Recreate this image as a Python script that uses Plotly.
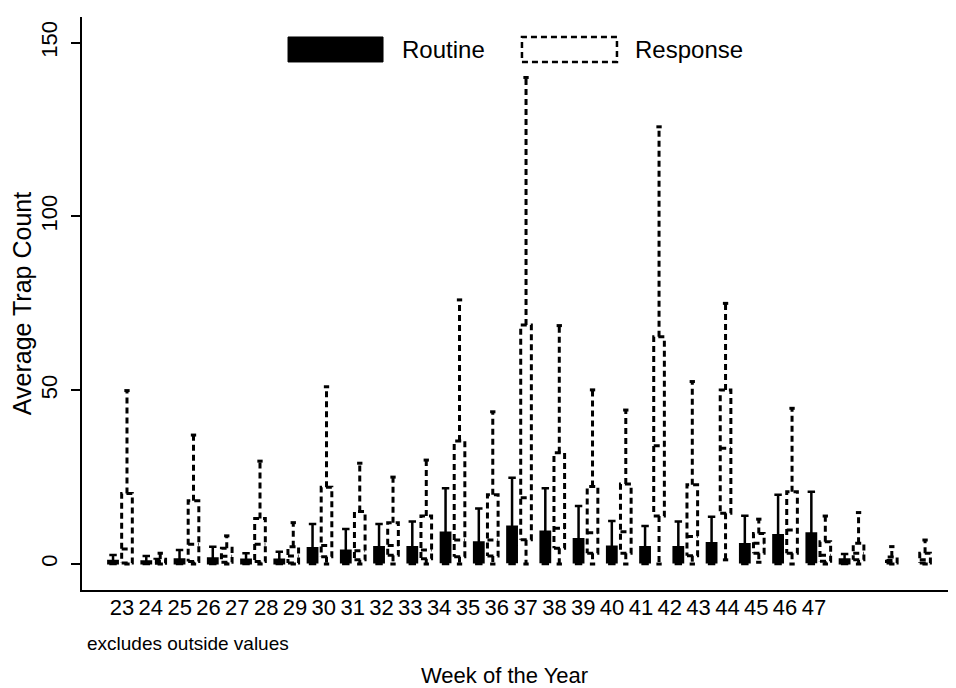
import plotly.graph_objects as go

# ---------------- data ----------------
weeks = list(range(23, 48))
week_labels = [str(w) for w in weeks]

# Routine traps (weeks 46, 47 have no routine data)
routine_lower  = [0, 0, 0, 0, 0, 0, 0, 0, 0, 0, 0, 0, 0, 0, 0, 0, 0, 0, 0, 0, 0, 0, 0, None, None]
routine_q1     = [0.2, 0.2, 0.2, 0.2, 0.2, 0.2, 0.5, 0.5, 0.5, 0.5, 0.6, 0.5, 0.6, 0.6, 0.5, 0.5, 0.5, 0.5, 0.5, 0.5, 0.5, 0.6, 0.2, None, None]
routine_median = [0.4, 0.3, 0.6, 0.7, 0.5, 0.5, 2.0, 1.8, 2.2, 2.2, 4.0, 3.0, 5.0, 4.2, 3.3, 2.4, 2.2, 2.2, 2.8, 2.6, 3.8, 4.0, 0.6, None, None]
routine_q3     = [0.9, 0.7, 1.3, 1.6, 1.2, 1.2, 4.5, 3.8, 4.8, 4.8, 9.0, 6.2, 10.7, 9.3, 7.1, 5.0, 4.8, 4.8, 6.0, 5.7, 8.3, 8.8, 1.3, None, None]
routine_upper  = [2.6, 2.3, 4.0, 5.0, 3.1, 3.5, 11.5, 10.1, 11.5, 12.2, 21.8, 16.0, 24.8, 21.8, 16.7, 12.4, 10.9, 12.2, 13.6, 13.9, 19.9, 20.8, 2.9, None, None]

# Response traps
response_lower  = [0, 0, 0, 0, 0, 0, 0, 0, 0, 0, 0, 0, 0, 0, 0, 0, 0, 0, 1.2, 0.5, 0, 0, 0, 0, 0]
response_q1     = [0.3, 0.2, 0.7, 0.5, 0.7, 0.3, 2.1, 1.2, 2.5, 1.5, 2.1, 2.3, 7.0, 4.5, 3.1, 3.1, 13.8, 2.4, 14.6, 3.1, 3.1, 0.8, 1.2, 0.3, 0.3]
response_median = [4.3, 0.7, 5.7, 2.2, 5.7, 2.3, 5.3, 3.8, 5.3, 4.0, 6.9, 6.9, 19.1, 10.3, 9.0, 9.3, 34.0, 7.9, 33.3, 6.0, 9.8, 2.5, 3.1, 1.0, 1.2]
response_q3     = [20.3, 1.4, 18.2, 4.5, 13.1, 5.0, 22.1, 15.1, 11.9, 13.8, 35.4, 19.9, 68.8, 32.0, 22.3, 23.0, 65.4, 22.8, 50.1, 8.8, 20.8, 6.4, 6.0, 2.0, 3.1]
response_upper  = [49.9, 3.1, 37.1, 8.1, 29.6, 11.9, 51.0, 29.0, 25.0, 29.9, 76.0, 43.8, 140.0, 68.6, 50.1, 44.3, 125.8, 52.5, 75.0, 12.9, 44.8, 13.8, 14.8, 5.0, 6.9]

# ---------------- styling / geometry ----------------
FONT = "Liberation Sans, Arial, Helvetica, sans-serif"
OFF = 0.21        # offset of each box from the week's slot centre (x units)
R_WIDTH = 0.28    # routine box width
S_HALF = 0.16     # response box half width
S_CAP = 0.08      # response whisker cap half width

fig = go.Figure()

# Routine: solid black boxes
rx, rq1, rmed, rq3, rlo, rhi = [], [], [], [], [], []
for i, w in enumerate(weeks):
    if routine_q3[i] is None:
        continue
    rx.append(w - OFF)
    rq1.append(routine_q1[i]); rmed.append(routine_median[i]); rq3.append(routine_q3[i])
    rlo.append(routine_lower[i]); rhi.append(routine_upper[i])

fig.add_trace(go.Box(
    x=rx, q1=rq1, median=rmed, q3=rq3, lowerfence=rlo, upperfence=rhi,
    width=R_WIDTH, whiskerwidth=0.8,
    fillcolor="black", line=dict(color="black", width=2.5),
    boxpoints=False, showlegend=False, name="Routine",
))

# Response: dashed outline boxes built from the statistics
px, py = [], []
for i, w in enumerate(weeks):
    c = w + OFF
    lo, q1, md, q3, hi = (response_lower[i], response_q1[i], response_median[i],
                          response_q3[i], response_upper[i])
    px += [c - S_HALF, c + S_HALF, c + S_HALF, c - S_HALF, c - S_HALF, None]
    py += [q1, q1, q3, q3, q1, None]
    px += [c - S_HALF, c + S_HALF, None]
    py += [md, md, None]
    px += [c, c, None, c - S_CAP, c + S_CAP, None]
    py += [q3, hi, None, hi, hi, None]
    px += [c, c, None, c - S_CAP, c + S_CAP, None]
    py += [q1, lo, None, lo, lo, None]

fig.add_trace(go.Scatter(
    x=px, y=py, mode="lines",
    line=dict(color="black", width=3, dash="6px,4px"),
    showlegend=False, hoverinfo="skip", name="Response",
))

# invisible trace to carry the week-label axis
fig.add_trace(go.Scatter(x=weeks, y=[None] * len(weeks), xaxis="x2",
                         mode="markers", showlegend=False, hoverinfo="skip"))

fig.update_layout(
    width=948, height=680,
    margin=dict(l=74, r=4, t=9, b=98),
    paper_bgcolor="white", plot_bgcolor="white",
    font=dict(family=FONT, color="black", size=22),
    xaxis=dict(
        range=[21.857, 48.02], showticklabels=False, ticks="",
        showgrid=False, zeroline=False, automargin=False,
        showline=True, linecolor="black", linewidth=1.5,
    ),
    xaxis2=dict(
        overlaying="x", anchor="y", side="bottom",
        range=[21.613, 51.79], tickmode="array",
        tickvals=weeks, ticktext=week_labels, ticks="",
        showgrid=False, zeroline=False, showline=False, automargin=False,
        tickfont=dict(size=22, family=FONT), ticklabelstandoff=2,
    ),
    yaxis=dict(
        range=[-7.48, 157.4], tickvals=[0, 50, 100, 150],
        ticks="outside", ticklen=9, tickwidth=1.5, tickcolor="black",
        tickangle=-90, tickfont=dict(size=22, family=FONT), ticklabelstandoff=5,
        showgrid=False, zeroline=False, automargin=False,
        showline=True, linecolor="black", linewidth=1.5,
        title=dict(text="Average Trap Count", font=dict(size=25, family=FONT), standoff=2),
    ),
    shapes=[
        dict(type="rect", xref="paper", yref="paper",
             x0=0.2368, x1=0.3460, y0=0.9215, y1=0.9651,
             fillcolor="black", line=dict(color="black", width=1)),
        dict(type="rect", xref="paper", yref="paper",
             x0=0.5057, x1=0.6149, y0=0.9215, y1=0.9651,
             fillcolor="white", line=dict(color="black", width=2.5, dash="6px,4px")),
    ],
    annotations=[
        dict(text="Routine", xref="paper", yref="paper", x=0.3655, y=0.9433,
             xanchor="left", yanchor="middle", showarrow=False,
             font=dict(size=24, family=FONT)),
        dict(text="Response", xref="paper", yref="paper", x=0.6333, y=0.9433,
             xanchor="left", yanchor="middle", showarrow=False,
             font=dict(size=24, family=FONT)),
        dict(text="excludes outside values", xref="paper", yref="paper",
             x=0.003, y=-0.0925, xanchor="left", yanchor="middle", showarrow=False,
             font=dict(size=19, family=FONT)),
        dict(text="Week of the Year", xref="paper", yref="paper",
             x=0.4862, y=-0.149, xanchor="center", yanchor="middle", showarrow=False,
             font=dict(size=22, family=FONT)),
    ],
)

fig.write_html("out.html")
